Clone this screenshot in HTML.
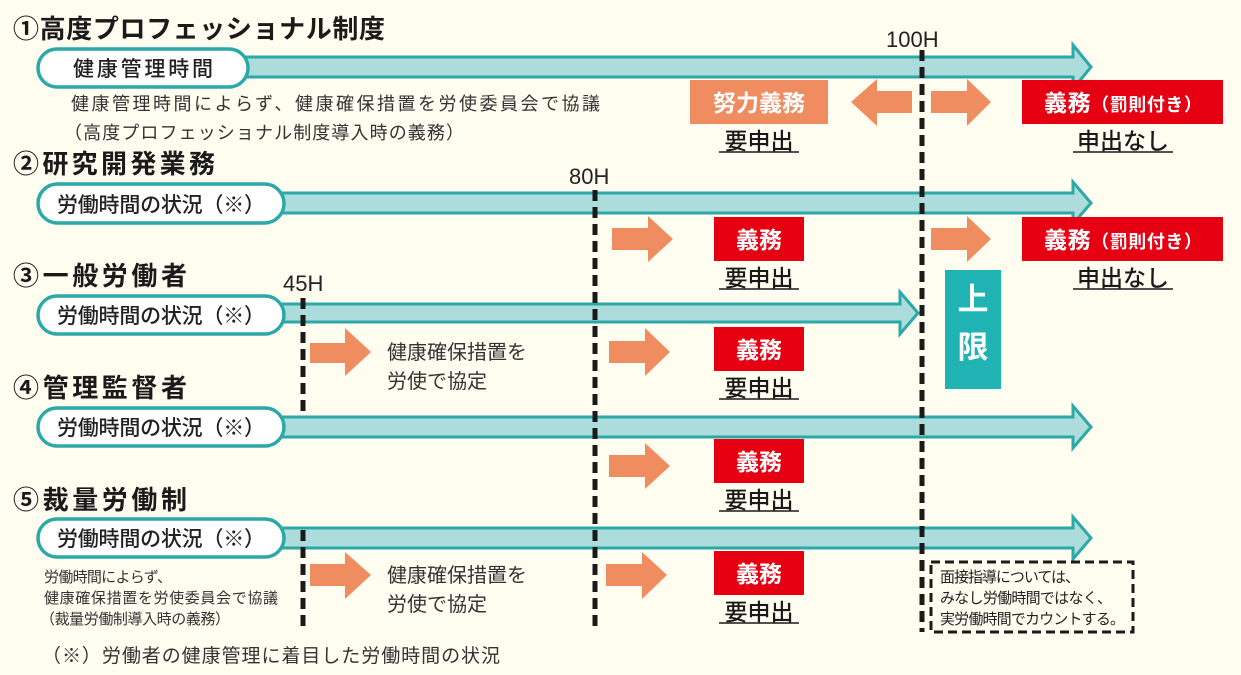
<!DOCTYPE html>
<html><head><meta charset="utf-8"><style>
html,body{margin:0;padding:0;background:#fffdf0;}
svg{display:block;font-family:"Liberation Sans","Noto Sans CJK JP",sans-serif;}
</style></head><body>
<svg width="1241" height="675" viewBox="0 0 1241 675" xmlns="http://www.w3.org/2000/svg">
<rect width="1241" height="675" fill="#fffdf0"/>
<g fill="#acdcdb" stroke="#2aa9a7" stroke-width="3" stroke-linejoin="miter">
<polygon points="220,57 1073,57 1073,45 1091,67 1073,89 1073,77 220,77"/>
<polygon points="260,193 1073,193 1073,182 1091,203 1073,224 1073,213 260,213"/>
<polygon points="260,304 900,304 900,292 918,313 900,334 900,322 260,322"/>
<polygon points="260,417 1073,417 1073,406 1091,427 1073,448 1073,437 260,437"/>
<polygon points="260,528 1073,528 1073,517 1091,538 1073,559 1073,548 260,548"/>
</g>
<g fill="#fff" stroke="#2aa9a7" stroke-width="3.5">
<rect x="38" y="49" width="210" height="38" rx="19"/>
<rect x="38" y="184" width="246" height="39" rx="19.5"/>
<rect x="38" y="296" width="246" height="38" rx="19"/>
<rect x="38" y="408" width="246" height="38" rx="19"/>
<rect x="38" y="519" width="246" height="38" rx="19"/>
</g>
<g fill="#222" font-size="21" font-weight="500">
<text x="73" y="76" textLength="140">健康管理時間</text>
<text x="57" y="212" textLength="208">労働時間の状況（※）</text>
<text x="57" y="323" textLength="208">労働時間の状況（※）</text>
<text x="57" y="435" textLength="208">労働時間の状況（※）</text>
<text x="57" y="546" textLength="208">労働時間の状況（※）</text>
</g>
<g fill="#1a1a1a" font-size="26" font-weight="700">
<text x="13" y="38" textLength="372">①高度プロフェッショナル制度</text>
<text x="13" y="173" textLength="202">②研究開発業務</text>
<text x="13" y="285" textLength="174">③一般労働者</text>
<text x="13" y="397" textLength="174">④管理監督者</text>
<text x="13" y="509" textLength="174">⑤裁量労働制</text>
</g>
<g fill="#222" font-size="22">
<text x="886" y="47">100H</text>
<text x="569" y="184">80H</text>
<text x="283" y="291">45H</text>
</g>
<g fill="#333" font-size="18">
<text x="71" y="110" textLength="529">健康管理時間によらず、健康確保措置を労使委員会で協議</text>
<text x="64" y="139" textLength="400">（高度プロフェッショナル制度導入時の義務）</text>
</g>
<g fill="#333" font-size="20">
<text x="387" y="359">健康確保措置を</text>
<text x="387" y="388">労使で協定</text>
<text x="387" y="582">健康確保措置を</text>
<text x="387" y="611">労使で協定</text>
</g>
<g fill="#333" font-size="15">
<text x="44" y="582" textLength="128">労働時間によらず、</text>
<text x="44" y="603" textLength="234">健康確保措置を労使委員会で協議</text>
<text x="40" y="624" textLength="190">（裁量労働制導入時の義務）</text>
</g>
<text x="42" y="662" fill="#333" font-size="19" textLength="458">（※）労働者の健康管理に着目した労働時間の状況</text>
<g stroke="#1a1a1a" stroke-width="5" stroke-dasharray="11 6">
<line x1="922" y1="50" x2="922" y2="632"/>
<line x1="595" y1="190" x2="595" y2="632"/>
<line x1="303" y1="298" x2="303" y2="415"/>
<line x1="303" y1="530" x2="303" y2="632"/>
</g>
<rect x="931" y="562" width="202" height="70" fill="none" stroke="#1a1a1a" stroke-width="3" stroke-dasharray="9 5"/>
<g fill="#222" font-size="15">
<text x="940" y="582" textLength="140">面接指導については、</text>
<text x="940" y="603" textLength="172">みなし労働時間ではなく、</text>
<text x="940" y="624" textLength="185">実労働時間でカウントする。</text>
</g>
<g fill="#ef8d60">
<polygon points="851,102 877,79 877,91 912,91 912,113 877,113 877,126"/>
<polygon points="931,91 967,91 967,79 991,102 967,126 967,113 931,113"/>
<polygon points="931,228 967,228 967,216 991,239 967,262 967,250 931,250"/>
<polygon points="612,228 648,228 648,216 673,239 648,262 648,250 612,250"/>
<polygon points="310,343 345,343 345,328 371,352 345,376 345,363 310,363"/>
<polygon points="609,341 645,341 645,328 670,352 645,376 645,363 609,363"/>
<polygon points="609,455 645,455 645,443 670,466 645,489 645,477 609,477"/>
<polygon points="606,564 642,564 642,552 667,575 642,599 642,586 606,586"/>
<polygon points="310,564 345,564 345,552 371,575 345,599 345,586 310,586"/>
</g>
<rect x="690" y="80" width="138" height="44" fill="#ef8d60"/>
<text x="759" y="111" fill="#fff" font-size="23" font-weight="700" text-anchor="middle">努力義務</text>
<g fill="#e60012">
<rect x="1022" y="80" width="201" height="44"/>
<rect x="1022" y="217" width="201" height="44"/>
<rect x="714" y="217" width="90" height="44"/>
<rect x="714" y="327" width="90" height="44"/>
<rect x="714" y="439" width="90" height="44"/>
<rect x="714" y="551" width="90" height="44"/>
</g>
<g fill="#fff" font-weight="700">
<text x="1044" y="111" font-size="23" textLength="158">義務<tspan font-size="18">（罰則付き）</tspan></text>
<text x="1044" y="248" font-size="23" textLength="158">義務<tspan font-size="18">（罰則付き）</tspan></text>
<text x="759" y="248" font-size="23" text-anchor="middle">義務</text>
<text x="759" y="358" font-size="23" text-anchor="middle">義務</text>
<text x="759" y="470" font-size="23" text-anchor="middle">義務</text>
<text x="759" y="582" font-size="23" text-anchor="middle">義務</text>
</g>
<g fill="#1a1a1a" font-size="23" font-weight="500" text-anchor="middle">
<text x="759" y="149">要申出</text>
<text x="759" y="286">要申出</text>
<text x="759" y="396">要申出</text>
<text x="759" y="508">要申出</text>
<text x="759" y="620">要申出</text>
<text x="1123" y="149">申出なし</text>
<text x="1123" y="286">申出なし</text>
</g>
<g stroke="#1a1a1a" stroke-width="1.5">
<line x1="719" y1="152" x2="799" y2="152"/>
<line x1="719" y1="289" x2="799" y2="289"/>
<line x1="719" y1="399" x2="799" y2="399"/>
<line x1="719" y1="511" x2="799" y2="511"/>
<line x1="719" y1="623" x2="799" y2="623"/>
<line x1="1073" y1="152" x2="1173" y2="152"/>
<line x1="1073" y1="289" x2="1173" y2="289"/>
</g>
<rect x="945" y="270" width="56" height="119" fill="#1fb3b3"/>
<text x="973" y="310" fill="#fff" font-size="31" font-weight="700" text-anchor="middle">上</text>
<text x="973" y="358" fill="#fff" font-size="31" font-weight="700" text-anchor="middle">限</text>
</svg>
</body></html>
